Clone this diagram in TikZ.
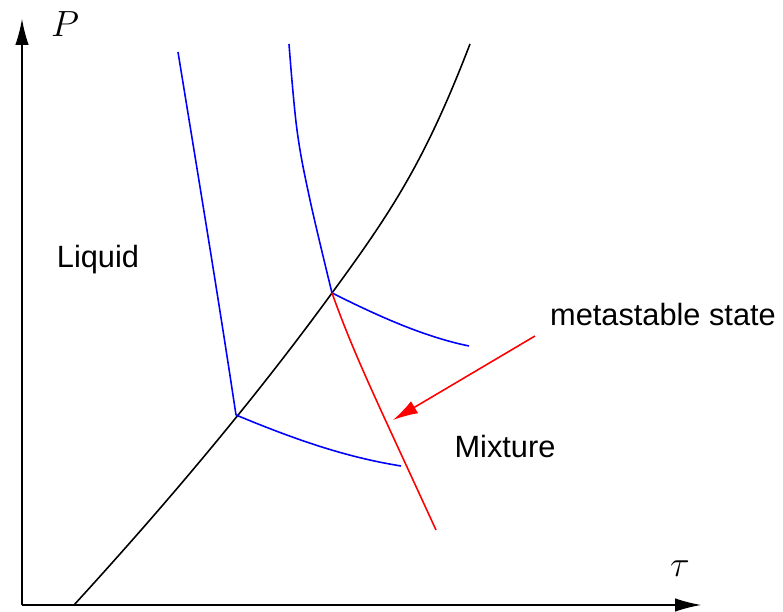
\documentclass[tikz,border=0pt]{standalone}
\usepackage{fontspec}
\setmainfont{Liberation Sans}
\usepackage{tikz}
\usetikzlibrary{positioning,arrows.meta}
\usepackage{xcolor}
\definecolor{IsoBlue}{RGB}{0,0,255}
\definecolor{MetaRed}{RGB}{255,0,0}

\begin{document}
\begin{tikzpicture}[
    axis/.style={-{Latex[length=0.52cm, width=0.27cm]}, line width=0.7pt, black},
    sat/.style={line width=0.9pt, black},
    iso/.style={line width=0.9pt, IsoBlue},
    meta/.style={line width=0.9pt, MetaRed},
    arr/.style={-{Latex[length=0.5cm, width=0.28cm]}, line width=0.9pt, MetaRed},
    lbl/.style={font=\fontsize{17.5}{21}\selectfont, text=black},
    sym/.style={font=\fontsize{21.5}{25}\selectfont, text=black},
]
\useasboundingbox (0,0) rectangle (15.66,12.24);

% axes
\coordinate (o) at (0.44,0.14);
\coordinate (ptop) at (0.44,11.86);
\coordinate (tend) at (14.02,0.14);
\draw[axis] (o) -- (ptop);
\draw[axis] (o) -- (tend);
\node[sym] (plab) at (1.3,11.75) {$P$};
\node[sym] (tlab) at (13.6,0.86) {$\tau$};

% saturation curve
\coordinate (s0) at (1.48,0.14);
\coordinate (a) at (4.72,3.94);
\coordinate (b) at (6.64,6.38);
\coordinate (s1) at (9.4,11.36);
\draw[sat] (s0) .. controls (3.4,2.24) and (5.14,4.32) .. (b)
    .. controls (7.84,8.02) and (8.5,9.02) .. (s1);

% isotherms
\coordinate (l1) at (3.56,11.2);
\coordinate (l2) at (8.02,2.92);
\coordinate (r1) at (5.78,11.36);
\coordinate (r2) at (9.38,5.32);
\draw[iso] (l1) .. controls (3.95,8.8) and (4.35,6.4) .. (a);
\draw[iso] (a) .. controls (5.9,3.45) and (6.9,3.1) .. (l2);
\draw[iso] plot[smooth, tension=0.6] coordinates
    {(r1) (5.94,9.64) (6.2,8.24) (b)};
\draw[iso] (b) .. controls (7.6,5.9) and (8.5,5.5) .. (r2);

% metastable branch
\coordinate (m1) at (8.72,1.64);
\draw[meta] (b) .. controls (7.1,5.1) and (7.5,4.3) .. (m1);

% labels
\node[lbl] (liq) at (1.96,7.04) {Liquid};
\node[lbl] (mix) at (10.1,3.3) {Mixture};
\node[lbl] (ms) at (13.26,5.94) {metastable state};
\coordinate (as) at (10.7,5.52);
\coordinate (ar) at (7.86,3.84);
\draw[arr] (as) -- (ar);
\end{tikzpicture}
\end{document}
